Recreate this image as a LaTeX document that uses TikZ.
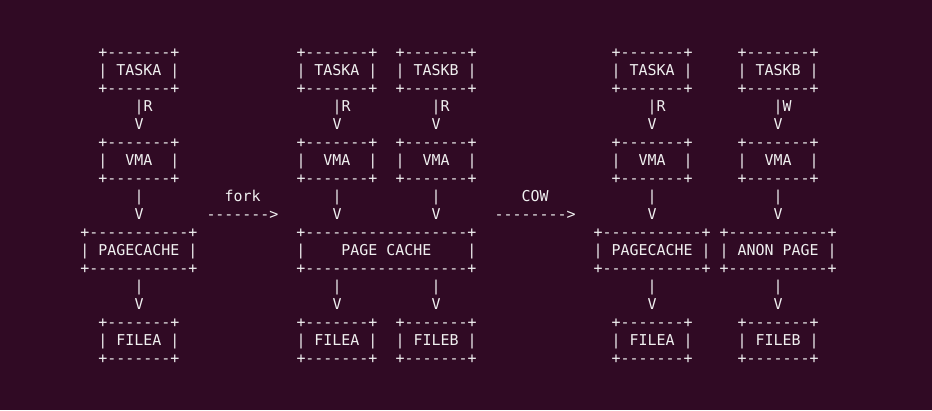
\documentclass[tikz,border=0pt]{standalone}
\usepackage{fontspec}
\setmonofont{DejaVu Sans Mono}
\usepackage{xcolor}
\definecolor{termbg}{HTML}{300A24}
\definecolor{termfg}{HTML}{F0F0F0}
\newcommand{\asciibox}[2]{\strut#1\\\strut#2\\\strut#1}
\newcommand{\asciiwire}[1]{\strut|#1\\\strut V}

\begin{document}
\begin{tikzpicture}[x=1pt,y=-1pt,
    ascii/.style={font=\ttfamily\fontsize{14.95}{18}\selectfont, text=termfg, inner sep=0pt, align=left},
    wire/.style={ascii},
    rwire/.style={ascii, xshift=4.5pt}]

        % Terminal
        \fill[termbg] (0,0) rectangle (932,410);
        \useasboundingbox (0,0) rectangle (932,410);

        % Before fork
        \node[ascii] (taskaA)  at (139,71.9)  {\asciibox{+-------+}{| TASKA |}};
        \node[ascii] (vmaA)    at (139,161.9) {\asciibox{+-------+}{|~~VMA~~|}};
        \node[ascii] (pcacheA) at (139,251.9) {\asciibox{+-----------+}{| PAGECACHE |}};
        \node[ascii] (fileaA)  at (139,341.9) {\asciibox{+-------+}{| FILEA |}};

        % After fork
        \node[ascii] (taskaB)  at (337,71.9)    {\asciibox{+-------+}{| TASKA |}};
        \node[ascii] (taskbB)  at (436,71.9)    {\asciibox{+-------+}{| TASKB |}};
        \node[ascii] (vmaB)    at (337,161.9)   {\asciibox{+-------+}{|~~VMA~~|}};
        \node[ascii] (vmbB)    at (436,161.9)   {\asciibox{+-------+}{|~~VMA~~|}};
        \node[ascii] (pcacheB) at (386.5,251.9) {\asciibox{+------------------+}{|~~~~PAGE CACHE~~~~|}};
        \node[ascii] (fileaB)  at (337,341.9)   {\asciibox{+-------+}{| FILEA |}};
        \node[ascii] (filebB)  at (436,341.9)   {\asciibox{+-------+}{| FILEB |}};

        % After COW
        \node[ascii] (taskaC)  at (652,71.9)  {\asciibox{+-------+}{| TASKA |}};
        \node[ascii] (taskbC)  at (778,71.9)  {\asciibox{+-------+}{| TASKB |}};
        \node[ascii] (vmaC)    at (652,161.9) {\asciibox{+-------+}{|~~VMA~~|}};
        \node[ascii] (vmbC)    at (778,161.9) {\asciibox{+-------+}{|~~VMA~~|}};
        \node[ascii] (pcacheC) at (652,251.9) {\asciibox{+-----------+}{| PAGECACHE |}};
        \node[ascii] (anonC)   at (778,251.9) {\asciibox{+-----------+}{| ANON PAGE |}};
        \node[ascii] (fileaC)  at (652,341.9) {\asciibox{+-------+}{| FILEA |}};
        \node[ascii] (filebC)  at (778,341.9) {\asciibox{+-------+}{| FILEB |}};

        % Task -> VMA
        \foreach \a/\b/\l in {taskaA/vmaA/R, taskaB/vmaB/R, taskbB/vmbB/R, taskaC/vmaC/R, taskbC/vmbC/W}
        {
            \path (\a) -- node[rwire] {\asciiwire{\l}} (\b);
        }

        % VMA -> page
        \foreach \a/\b in {vmaA/pcacheA, vmaB/pcacheB, vmbB/pcacheB, vmaC/pcacheC, vmbC/anonC}
        {
            \path (\a.south) -- node[wire] {\asciiwire{}} (\a.south |- \b.north);
        }

        % Page -> file
        \foreach \a/\b in {pcacheA/fileaA, pcacheB/fileaB, pcacheB/filebB, pcacheC/fileaC, anonC/filebC}
        {
            \path (\b.north |- \a.south) -- node[wire] {\asciiwire{}} (\b.north);
        }

        % Steps
        \node[ascii, align=center] (fork) at (242.5,206.9) {\strut fork\\\strut------->};
        \node[ascii, align=center] (cow)  at (535,206.9)   {\strut COW\\\strut-------->};

    \end{tikzpicture}
\end{document}
